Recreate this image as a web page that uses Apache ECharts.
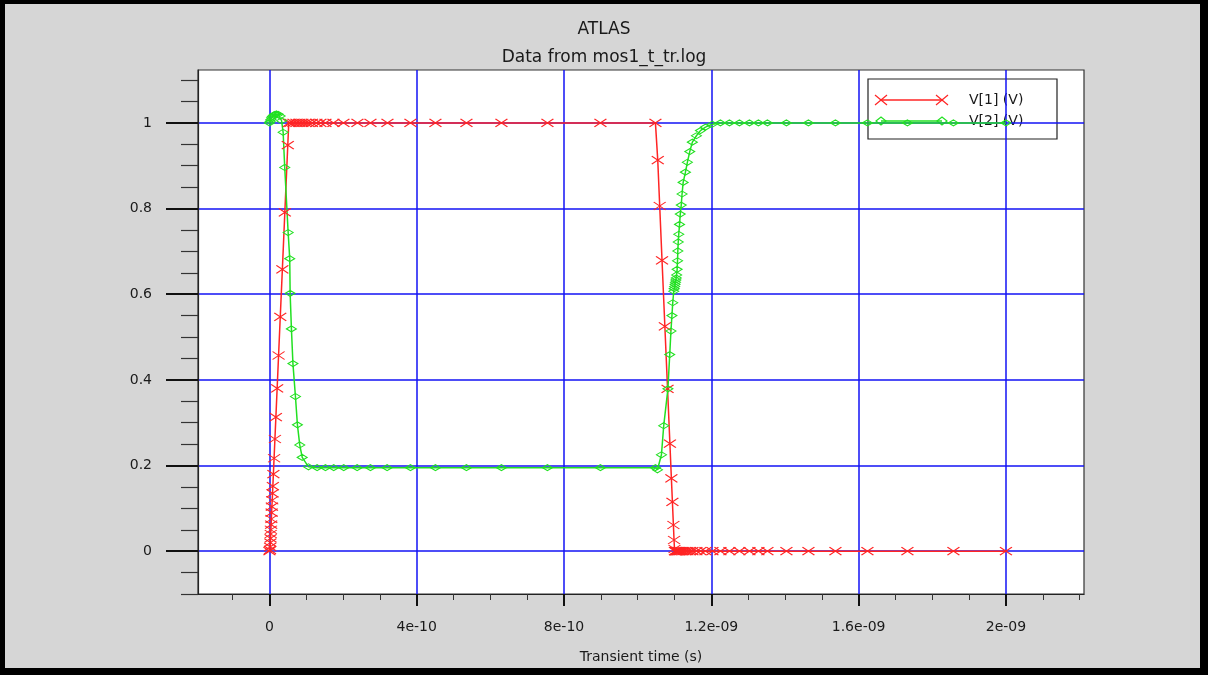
<!DOCTYPE html>
<html>
<head>
<meta charset="utf-8">
<title>ATLAS - Data from mos1_t_tr.log</title>
<script src="https://cdn.jsdelivr.net/npm/echarts@6/dist/echarts.min.js"></script>
<style>
  html, body { margin: 0; padding: 0; background: #000; }
  #chart { width: 1208px; height: 675px; }
</style>
</head>
<body>
<div id="chart"></div>
<script>
// ---- Transient data (time in seconds, voltage in volts) ----
// V[1]: input pulse
const v1Time = [
  0, 1.5e-12, 2e-12, 2.5e-12, 3e-12, 3.5e-12, 4e-12, 4.6e-12, 5.2e-12, 5.9e-12, 6.6e-12,
  7.6e-12, 8.4e-12, 9.3e-12, 1.07e-11, 1.26e-11, 1.49e-11, 1.75e-11, 2.09e-11, 2.48e-11,
  2.94e-11, 3.51e-11, 4.18e-11, 4.98e-11, 5.25e-11,
  5.70e-11, 6.52e-11, 7.33e-11, 8.15e-11, 8.96e-11, 9.78e-11, 1.059e-10, 1.154e-10, 1.276e-10,
  1.385e-10, 1.521e-10, 1.738e-10, 2.010e-10, 2.390e-10, 2.743e-10, 3.205e-10, 3.829e-10,
  4.508e-10, 5.350e-10, 6.300e-10, 7.549e-10, 8.988e-10, 1.0482e-9,
  1.0545e-9, 1.0598e-9, 1.0661e-9, 1.0738e-9, 1.0811e-9, 1.0875e-9, 1.0915e-9, 1.0943e-9,
  1.0970e-9, 1.0987e-9, 1.1000e-9,
  1.1012e-9, 1.1025e-9, 1.1039e-9, 1.1052e-9, 1.1071e-9, 1.1088e-9, 1.1107e-9, 1.1134e-9,
  1.1161e-9, 1.1202e-9, 1.1242e-9, 1.1297e-9, 1.1351e-9, 1.1419e-9, 1.1487e-9, 1.1595e-9,
  1.1704e-9, 1.1840e-9, 1.2030e-9, 1.2247e-9, 1.2492e-9, 1.2763e-9, 1.3035e-9, 1.3279e-9,
  1.3523e-9, 1.4039e-9, 1.4637e-9, 1.5370e-9, 1.6239e-9, 1.7325e-9, 1.8574e-9, 2.0e-9
];
const v1Volt = [
  0, 0.003, 0.01, 0.02, 0.03, 0.04, 0.05, 0.062, 0.075, 0.09, 0.104,
  0.119, 0.135, 0.152, 0.18, 0.217, 0.262, 0.313, 0.38, 0.457,
  0.547, 0.658, 0.791, 0.948, 1.0,
  1, 1, 1, 1, 1, 1, 1, 1, 1,
  1, 1, 1, 1, 1, 1, 1, 1,
  1, 1, 1, 1, 1, 1,
  0.913, 0.806, 0.679, 0.525, 0.379, 0.251, 0.17, 0.115,
  0.061, 0.026, 0.005,
  0, 0, 0, 0, 0, 0, 0, 0,
  0, 0, 0, 0, 0, 0, 0, 0,
  0, 0, 0, 0, 0, 0, 0, 0,
  0, 0, 0, 0, 0, 0, 0, 0
];

// V[2]: inverter output
const v2Time = [
  0, 2e-12, 4e-12, 6e-12, 8e-12, 1.1e-11, 1.5e-11, 1.9e-11, 2.4e-11, 2.9e-11, 3.3e-11,
  3.72e-11, 4.15e-11, 5.08e-11, 5.51e-11, 5.62e-11, 5.97e-11, 6.38e-11, 7.06e-11, 7.6e-11,
  8.23e-11, 8.9e-11, 1.06e-10,
  1.295e-10, 1.521e-10, 1.746e-10, 2.018e-10, 2.382e-10, 2.743e-10, 3.196e-10, 3.829e-10,
  4.508e-10, 5.350e-10, 6.300e-10, 7.549e-10, 8.988e-10, 1.0482e-9,
  1.0536e-9, 1.0645e-9, 1.0707e-9, 1.0821e-9, 1.0870e-9, 1.0903e-9, 1.0930e-9, 1.0952e-9,
  1.0979e-9, 1.0993e-9, 1.1004e-9, 1.1015e-9, 1.1025e-9, 1.1036e-9, 1.1047e-9, 1.1058e-9,
  1.1071e-9, 1.1082e-9, 1.1090e-9, 1.1101e-9, 1.1115e-9, 1.1137e-9, 1.1156e-9, 1.1183e-9,
  1.1205e-9, 1.1235e-9, 1.1297e-9, 1.1349e-9, 1.1414e-9, 1.1485e-9, 1.1595e-9, 1.1704e-9,
  1.1840e-9, 1.2025e-9, 1.2247e-9, 1.2492e-9, 1.2763e-9, 1.3035e-9, 1.3279e-9, 1.3523e-9,
  1.4039e-9, 1.4637e-9, 1.5370e-9, 1.6239e-9, 1.7325e-9, 1.8574e-9, 2.0e-9
];
const v2Volt = [
  1.0, 1.004, 1.008, 1.012, 1.015, 1.018, 1.02, 1.021, 1.02, 1.016, 1.005,
  0.978, 0.896, 0.744, 0.683, 0.602, 0.519, 0.438, 0.361, 0.295,
  0.248, 0.219, 0.197,
  0.195, 0.195, 0.195, 0.195, 0.195, 0.195, 0.195, 0.195,
  0.195, 0.195, 0.195, 0.195, 0.195, 0.195,
  0.19, 0.225, 0.293, 0.379, 0.459, 0.514, 0.55, 0.58,
  0.607, 0.613, 0.618, 0.623, 0.628, 0.633, 0.638, 0.645,
  0.658, 0.678, 0.701, 0.722, 0.74, 0.763, 0.787, 0.808,
  0.834, 0.861, 0.885, 0.908, 0.933, 0.955, 0.97, 0.982,
  0.99, 0.997, 1.0, 1.0, 1.0, 1.0, 1.0, 1.0,
  1.0, 1.0, 1.0, 1.0, 1.0, 1.0, 1.0
];

// ---- Axis ticks ----
const xTickValues = [0, 4e-10, 8e-10, 1.2e-9, 1.6e-9, 2e-9];
const xTickLabels = ['0', '4e-10', '8e-10', '1.2e-09', '1.6e-09', '2e-09'];
const xMinorTicks = [-1e-10, 1e-10, 2e-10, 3e-10, 5e-10, 6e-10, 7e-10, 9e-10, 1e-9, 1.1e-9,
  1.3e-9, 1.4e-9, 1.5e-9, 1.7e-9, 1.8e-9, 1.9e-9, 2.1e-9, 2.2e-9];
const yTickValues = [0, 0.2, 0.4, 0.6, 0.8, 1];
const yTickLabels = ['0', '0.2', '0.4', '0.6', '0.8', '1'];
const yMinorTicks = [-0.1, -0.05, 0.05, 0.1, 0.15, 0.25, 0.3, 0.35, 0.45, 0.5, 0.55, 0.65,
  0.7, 0.75, 0.85, 0.9, 0.95, 1.05, 1.1];

const seriesNames = ['V[1] (V)', 'V[2] (V)'];
const titleText = 'ATLAS';
const subtitleText = 'Data from mos1_t_tr.log';
const xAxisName = 'Transient time (s)';

// ---- Styling / layout ----
const FONT = 'DejaVu Sans';
const TEXT_COLOR = '#1a1a1a';
const RED = '#ff2424';
const GREEN = '#22e022';
const GRID_BLUE = '#1212f5';
const X_RANGE = [-1.94e-10, 2.212e-9];
const Y_RANGE = [-0.1, 1.1235];
const PLOT = { left: 198, top: 70, width: 886, height: 524 };
const LEGEND_BOX = { x: 868, y: 79, width: 189, height: 60 };

const CROSS_PATH = 'path://M0,0L12,8M12,0L0,8';
const DIAMOND_PATH = 'path://M0,4L6,0L12,4L6,8Z';

const pairs = (ts, vs) => ts.map((t, i) => [t, vs[i]]);

function labelFor(values, labels, eps) {
  return function (val) {
    const i = values.findIndex(v => Math.abs(v - val) < eps);
    return i >= 0 ? labels[i] : '';
  };
}

// Legend: framed box with a line sample and markers at both ends
function legendGraphics() {
  const els = [];
  const b = LEGEND_BOX;
  els.push({
    type: 'rect', z: 1,
    shape: { x: b.x, y: b.y, width: b.width, height: b.height },
    style: { fill: '#ffffff', stroke: '#222', lineWidth: 1.2 }
  });
  const rows = [
    { name: seriesNames[0], color: RED, marker: 'cross', y: b.y + 21 },
    { name: seriesNames[1], color: GREEN, marker: 'diamond', y: b.y + 42 }
  ];
  const x1 = b.x + 13, x2 = b.x + 74;
  rows.forEach(r => {
    els.push({ type: 'line', z: 1, shape: { x1: x1, y1: r.y, x2: x2, y2: r.y },
      style: { stroke: r.color, lineWidth: 1.5 } });
    [x1, x2].forEach(cx => {
      if (r.marker === 'cross') {
        els.push({ type: 'line', z: 1, shape: { x1: cx - 6, y1: r.y - 5, x2: cx + 6, y2: r.y + 5 },
          style: { stroke: r.color, lineWidth: 1.2 } });
        els.push({ type: 'line', z: 1, shape: { x1: cx - 6, y1: r.y + 5, x2: cx + 6, y2: r.y - 5 },
          style: { stroke: r.color, lineWidth: 1.2 } });
      } else {
        els.push({ type: 'polygon', z: 1,
          shape: { points: [[cx - 5, r.y], [cx, r.y - 4], [cx + 5, r.y], [cx, r.y + 4]] },
          style: { fill: 'rgba(0,0,0,0)', stroke: r.color, lineWidth: 1.2 } });
      }
    });
    els.push({ type: 'text', z: 1, x: b.x + 101, y: r.y,
      style: { text: r.name, fill: TEXT_COLOR, font: '14px "' + FONT + '"', verticalAlign: 'middle', align: 'left' } });
  });
  return els;
}

const chart = echarts.init(document.getElementById('chart'), null, { renderer: 'canvas' });

const majorX = {
  type: 'value', gridIndex: 0, position: 'bottom', min: X_RANGE[0], max: X_RANGE[1], z: 3,
  name: xAxisName, nameLocation: 'middle', nameGap: 56,
  nameTextStyle: { color: TEXT_COLOR, fontSize: 14, fontFamily: FONT },
  axisLine: { show: true, onZero: false, lineStyle: { color: '#222', width: 1.2 } },
  axisTick: { show: true, inside: false, length: 12, customValues: xTickValues, lineStyle: { color: '#111', width: 2 } },
  axisLabel: { show: true, customValues: xTickValues, margin: 26, color: TEXT_COLOR, fontSize: 14, fontFamily: FONT,
    formatter: labelFor(xTickValues, xTickLabels, 1e-14) },
  splitLine: { show: true, lineStyle: { color: GRID_BLUE, width: 1.5 } }
};
const minorX = {
  type: 'value', gridIndex: 0, position: 'bottom', min: X_RANGE[0], max: X_RANGE[1], z: 3,
  axisLine: { show: false, onZero: false },
  axisTick: { show: true, inside: false, length: 6, customValues: xMinorTicks, lineStyle: { color: '#333', width: 1 } },
  axisLabel: { show: false },
  splitLine: { show: false }
};
const majorY = {
  type: 'value', gridIndex: 0, position: 'left', min: Y_RANGE[0], max: Y_RANGE[1], z: 3,
  axisLine: { show: true, onZero: false, lineStyle: { color: '#222', width: 1.2 } },
  axisTick: { show: true, inside: false, length: 32, customValues: yTickValues, lineStyle: { color: '#111', width: 2 } },
  axisLabel: { show: true, customValues: yTickValues, margin: 46, color: TEXT_COLOR, fontSize: 14, fontFamily: FONT,
    formatter: labelFor(yTickValues, yTickLabels, 1e-6) },
  splitLine: { show: true, lineStyle: { color: GRID_BLUE, width: 1.5 } }
};
const minorY = {
  type: 'value', gridIndex: 0, position: 'left', min: Y_RANGE[0], max: Y_RANGE[1], z: 3,
  axisLine: { show: false, onZero: false },
  axisTick: { show: true, inside: false, length: 17, customValues: yMinorTicks, lineStyle: { color: '#333', width: 1.2 } },
  axisLabel: { show: false },
  splitLine: { show: false }
};

chart.setOption({
  animation: false,
  backgroundColor: 'transparent',
  textStyle: { fontFamily: FONT },
  title: {
    text: titleText, subtext: subtitleText, left: 'center', top: 15, itemGap: 8,
    textStyle: { color: TEXT_COLOR, fontSize: 17, fontWeight: 'normal', fontFamily: FONT, lineHeight: 20 },
    subtextStyle: { color: TEXT_COLOR, fontSize: 17, fontFamily: FONT, lineHeight: 20 }
  },
  grid: {
    left: PLOT.left, top: PLOT.top, width: PLOT.width, height: PLOT.height,
    show: true, backgroundColor: '#ffffff', borderColor: '#333', borderWidth: 1.2, containLabel: false
  },
  xAxis: [majorX, minorX],
  yAxis: [majorY, minorY],
  graphic: [
    { type: 'rect', z: -10, shape: { x: 5, y: 4, width: 1195, height: 664 }, style: { fill: '#d6d6d6' } }
  ].concat(legendGraphics()),
  series: [
    {
      name: seriesNames[0], type: 'line', xAxisIndex: 0, yAxisIndex: 0,
      data: pairs(v1Time, v1Volt),
      showAllSymbol: true, symbol: CROSS_PATH, symbolSize: [12, 8], symbolKeepAspect: false,
      lineStyle: { color: RED, width: 1.5 },
      itemStyle: { color: RED, borderColor: RED, borderWidth: 1.1 }
    },
    {
      name: seriesNames[1], type: 'line', xAxisIndex: 0, yAxisIndex: 0,
      data: pairs(v2Time, v2Volt),
      showAllSymbol: true, symbol: DIAMOND_PATH, symbolSize: [10, 6], symbolKeepAspect: false,
      lineStyle: { color: GREEN, width: 1.5 },
      itemStyle: { color: 'rgba(0,0,0,0)', borderColor: GREEN, borderWidth: 1.1 }
    }
  ]
});
</script>
</body>
</html>
